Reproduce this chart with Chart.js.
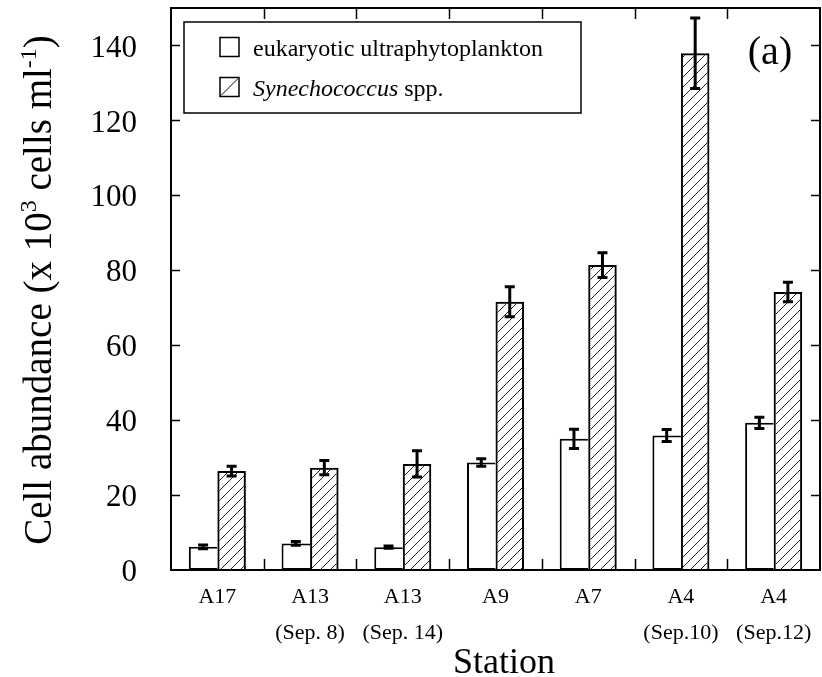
<!DOCTYPE html>
<html>
<head>
<meta charset="utf-8">
<script src="https://cdn.jsdelivr.net/npm/chart.js@4.4.1/dist/chart.umd.min.js"></script>
<style>
  body { margin: 0; background: #fff; }
  canvas { display: block; }
</style>
</head>
<body>
<canvas id="abundance_chart" width="822" height="677"></canvas>
<script>
// stations and values (x 10^3 cells ml-1)
var stations = ['A17', ['A13', '(Sep. 8)'], ['A13', '(Sep. 14)'], 'A9', 'A7', ['A4', '(Sep.10)'], ['A4', '(Sep.12)']];
var eukValues = [6.2, 7.1, 6.1, 28.7, 35.0, 35.9, 39.3];
var eukErrors = [0.5, 0.5, 0.3, 1.0, 2.6, 1.6, 1.5];
var synValues = [26.4, 27.3, 28.3, 71.6, 81.4, 137.9, 74.2];
var synErrors = [1.3, 1.9, 3.5, 4.0, 3.3, 9.4, 2.6];
var yTicks = [0, 20, 40, 60, 80, 100, 120, 140];

var serif = '"Liberation Serif", "Times New Roman", serif';
var canvas = document.getElementById('abundance_chart');
var ctx = canvas.getContext('2d');

function hatchPattern() {
    var c = document.createElement('canvas');
    c.width = 10; c.height = 10;
    var g = c.getContext('2d');
    g.strokeStyle = '#222';
    g.lineWidth = 1;
    g.beginPath();
    g.moveTo(0, 10); g.lineTo(10, 0);
    g.moveTo(-5, 5); g.lineTo(5, -5);
    g.moveTo(5, 15); g.lineTo(15, 5);
    g.stroke();
    return ctx.createPattern(c, 'repeat');
}

var errorsBySet = [eukErrors, synErrors];

// frame, inward ticks, error bars, legend and titles
var extras = {
    id: 'extras',
    afterDatasetsDraw: function(chart) {
        var c = chart.ctx, a = chart.chartArea;
        var xs = chart.scales.x, ys = chart.scales.y;
        c.save();
        c.strokeStyle = '#000';

        // error bars
        c.lineWidth = 3;
        chart.data.datasets.forEach(function(ds, di) {
            var meta = chart.getDatasetMeta(di);
            meta.data.forEach(function(bar, i) {
                var v = ds.data[i], e = errorsBySet[di][i];
                var yt = ys.getPixelForValue(v + e), yb = ys.getPixelForValue(v - e);
                c.beginPath();
                c.moveTo(bar.x, yt); c.lineTo(bar.x, yb);
                c.moveTo(bar.x - 5, yt); c.lineTo(bar.x + 5, yt);
                c.moveTo(bar.x - 5, yb); c.lineTo(bar.x + 5, yb);
                c.stroke();
            });
        });

        // frame
        c.lineWidth = 2;
        c.strokeRect(a.left, a.top, a.right - a.left, a.bottom - a.top);

        // y ticks on both sides
        c.lineWidth = 1.5;
        c.beginPath();
        yTicks.forEach(function(v) {
            if (v === 0) return;
            var y = Math.round(ys.getPixelForValue(v)) + 0.5;
            c.moveTo(a.left, y); c.lineTo(a.left + 9, y);
            c.moveTo(a.right, y); c.lineTo(a.right - 9, y);
        });
        // category boundary ticks, top and bottom
        for (var i = 1; i < stations.length; i++) {
            var x = Math.round((xs.getPixelForValue(i - 1) + xs.getPixelForValue(i)) / 2) + 0.5;
            c.moveTo(x, a.bottom); c.lineTo(x, a.bottom - 11);
            c.moveTo(x, a.top); c.lineTo(x, a.top + 11);
        }
        c.stroke();

        // legend
        c.fillStyle = '#fff';
        c.fillRect(184, 22, 397, 91);
        c.lineWidth = 1.5;
        c.strokeRect(184, 22, 397, 91);
        c.strokeRect(220, 37.5, 19, 19);
        c.strokeRect(220, 77.5, 19, 19);
        c.lineWidth = 1;
        c.beginPath();
        c.moveTo(221, 95.5); c.lineTo(238, 78.5);
        c.stroke();

        c.fillStyle = '#000';
        c.textBaseline = 'alphabetic';
        c.textAlign = 'left';
        c.font = '24px ' + serif;
        c.fillText('eukaryotic ultraphytoplankton', 253, 56);
        c.font = 'italic 24px ' + serif;
        c.fillText('Synechococcus', 253, 96);
        var w = c.measureText('Synechococcus').width;
        c.font = '24px ' + serif;
        c.fillText(' spp.', 253 + w, 96);

        // panel tag
        c.font = '40px ' + serif;
        c.textAlign = 'center';
        c.fillText('(a)', 770, 64);

        // x title
        c.font = '36px ' + serif;
        c.fillText('Station', 504, 673);

        // y title with superscripts
        var parts = [
            ['Cell abundance (x 10', 39, 0],
            ['3', 24, 15],
            [' cells ml', 39, 0],
            ['-1', 24, 15],
            [')', 39, 0]
        ];
        var total = 0;
        parts.forEach(function(p) { c.font = p[1] + 'px ' + serif; p.push(c.measureText(p[0]).width); total += p[3]; });
        c.translate(51, 290);
        c.rotate(-Math.PI / 2);
        c.textAlign = 'left';
        var px = -total / 2;
        parts.forEach(function(p) {
            c.font = p[1] + 'px ' + serif;
            c.fillText(p[0], px, -p[2]);
            px += p[3];
        });
        c.restore();
    }
};

new Chart(canvas, {
    type: 'bar',
    data: {
        labels: stations,
        datasets: [{
            label: 'eukaryotic ultraphytoplankton',
            data: eukValues,
            backgroundColor: '#fff',
            borderColor: '#000',
            borderWidth: 2,
            borderSkipped: 'right'
        }, {
            label: 'Synechococcus spp.',
            data: synValues,
            backgroundColor: hatchPattern(),
            borderColor: '#000',
            borderWidth: 2,
            borderSkipped: 'bottom'
        }]
    },
    options: {
        responsive: false,
        animation: false,
        devicePixelRatio: 1,
        categoryPercentage: 0.615,
        barPercentage: 1,
        layout: { padding: { top: 8, right: 2, left: 0, bottom: 0 } },
        plugins: {
            legend: { display: false },
            tooltip: { enabled: false }
        },
        scales: {
            x: {
                grid: { display: false, drawTicks: false },
                border: { display: false },
                ticks: {
                    color: '#000',
                    padding: 9,
                    maxRotation: 0,
                    autoSkip: false,
                    font: { family: serif, size: 22, lineHeight: 1.65 }
                },
                afterFit: function(scale) {
                    scale.height = 107;
                    scale.paddingLeft = 0;
                    scale.paddingRight = 0;
                }
            },
            y: {
                min: 0,
                max: 150,
                grid: { display: false, drawTicks: false },
                border: { display: false },
                afterBuildTicks: function(scale) {
                    scale.ticks = yTicks.map(function(v) { return { value: v }; });
                },
                ticks: {
                    color: '#000',
                    padding: 34,
                    labelOffset: 3,
                    font: { family: serif, size: 31 }
                },
                afterFit: function(scale) {
                    scale.width = 171;
                    scale.paddingTop = 0;
                    scale.paddingBottom = 0;
                }
            }
        }
    },
    plugins: [extras]
});
</script>
</body>
</html>
